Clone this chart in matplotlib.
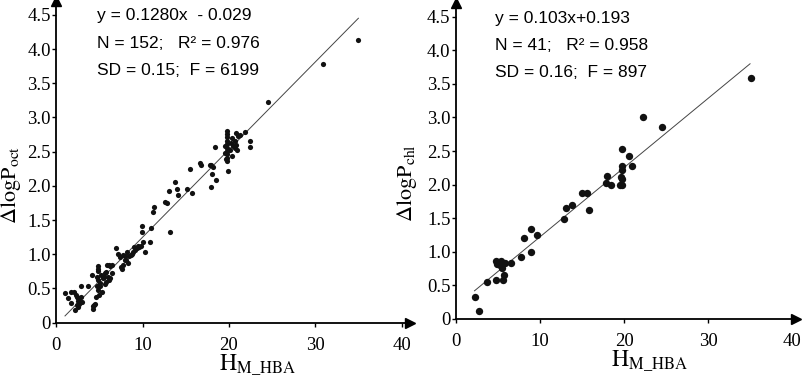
import matplotlib.pyplot as plt
import numpy as np

plt.rcParams["font.family"] = ["Liberation Serif", "DejaVu Serif"]
plt.rcParams["mathtext.fontset"] = "stix"

# left panel: octanol
oct_x = [1.0, 1.4, 1.7, 2.0, 1.7, 2.2, 2.4, 2.5, 2.6, 2.8, 2.5, 2.4, 2.6, 2.5, 2.8,
         3.7, 4.1, 4.3, 4.4, 4.5, 4.2, 4.8, 4.8, 4.8, 4.7, 4.8, 4.7, 4.8, 4.9, 4.6,
         5.0, 5.1, 5.2, 5.3, 5.4, 5.5, 5.6, 5.8, 5.9, 6.1, 6.2, 6.4, 6.0, 6.1, 5.8,
         6.2, 6.5, 6.9, 7.1, 7.5, 7.6, 7.7, 7.7, 7.9, 8.0, 8.1, 8.2, 8.4, 8.6, 8.8,
         8.9, 9.1, 9.3, 9.5, 9.6, 9.8, 9.9, 9.9, 10.0, 10.3, 10.8, 11.0, 11.2, 11.3,
         12.6, 12.8, 13.1, 13.2, 13.7, 14.0, 14.1, 15.1, 15.7, 17.9, 18.5,
         35.0, 30.9, 24.5, 22.4, 22.4, 21.9, 21.3, 21.0, 20.8, 20.7, 20.8, 20.7, 20.9,
         19.8, 19.8, 19.8, 19.8, 19.8, 19.8, 19.8, 19.8, 19.8, 19.8, 19.5, 19.5, 19.6,
         19.9, 20.3, 18.4, 18.0, 18.2, 17.9, 17.8, 16.8, 16.7, 15.5, 20.2, 20.4, 20.5,
         20.1, 7.4, 8.3, 9.0, 5.6, 3.0, 2.3]
oct_y = [0.43, 0.36, 0.45, 0.45, 0.29, 0.18, 0.38, 0.36, 0.34, 0.38, 0.32, 0.26, 0.27, 0.23, 0.54,
         0.54, 0.70, 0.24, 0.26, 0.28, 0.20, 0.83, 0.79, 0.76, 0.67, 0.62, 0.53, 0.48, 0.41, 0.38,
         0.58, 0.53, 0.70, 0.45, 0.65, 0.67, 0.72, 0.74, 0.84, 0.84, 0.83, 0.84, 0.67, 0.62, 0.60,
         0.65, 0.72, 1.09, 1.00, 0.81, 0.78, 0.84, 0.99, 0.97, 0.92, 0.92, 1.03, 0.97, 0.99, 1.00,
         1.04, 1.07, 1.09, 1.12, 1.11, 1.12, 1.41, 1.33, 1.18, 1.04, 1.18, 1.39, 1.62, 1.69,
         1.77, 1.75, 1.93, 1.32, 2.05, 1.96, 1.87, 1.95, 1.90, 1.99, 2.09,
         4.14, 3.78, 3.22, 2.65, 2.57, 2.79, 2.75, 2.73, 2.77, 2.65, 2.60, 2.55, 2.52,
         2.80, 2.76, 2.71, 2.66, 2.61, 2.56, 2.51, 2.46, 2.41, 2.36, 2.58, 2.48, 2.39,
         2.22, 2.44, 2.57, 2.17, 2.28, 2.30, 2.31, 2.30, 2.33, 2.25, 2.62, 2.70, 2.58,
         2.53, 0.96, 0.88, 1.10, 0.57, 0.30, 0.40]

# right panel: chloroform
chl_x = [2.3, 2.7, 3.7, 4.7, 4.8, 5.0, 5.2, 5.4, 5.5, 5.6, 5.7, 5.8, 6.6, 7.7, 8.1,
         8.9, 8.9, 9.6, 12.9, 13.1, 13.8, 15.0, 15.6, 15.8, 17.8, 18.0, 18.5, 19.5,
         19.7, 19.7, 19.6, 19.8, 19.7, 19.8, 20.6, 21.0, 22.3, 24.5, 35.1, 5.3, 4.9]
chl_y = [0.32, 0.12, 0.55, 0.58, 0.86, 0.84, 0.81, 0.87, 0.76, 0.58, 0.65, 0.83, 0.83, 0.92, 1.20,
         1.34, 1.00, 1.25, 1.49, 1.65, 1.69, 1.87, 1.87, 1.62, 2.03, 2.13, 2.00, 1.99,
         2.00, 2.09, 2.12, 2.22, 2.27, 2.53, 2.43, 2.27, 3.01, 2.85, 3.58, 0.84, 0.82]

yticks = [0, 0.5, 1.0, 1.5, 2.0, 2.5, 3.0, 3.5, 4.0, 4.5]
ytick_labels = ["0", "0.5", "1.0", "1.5", "2.0", "2.5", "3.0", "3.5", "4.0", "4.5"]
xticks = [0, 10, 20, 30, 40]

panels = [
    dict(x=oct_x, y=oct_y, slope=0.1280, icpt=-0.029, xr=(1.0, 35.0), ms=14,
         rect=[0.0702, 0.1463, 0.4406, 0.8505], xlim=41, tx=0.115, ty=0.955, ylx=-0.095,
         ylabel=r"$\Delta\mathrm{logP}_{\mathrm{oct}}$",
         text=["y = 0.1280x  - 0.029", "N = 152;   R\u00b2 = 0.976", "SD = 0.15;  F = 6199"]),
    dict(x=chl_x, y=chl_y, slope=0.103, icpt=0.193, xr=(2.2, 35.0), ms=28,
         rect=[0.5679, 0.1561, 0.4237, 0.8355], xlim=40.5, tx=0.115, ty=0.95, ylx=-0.11,
         ylabel=r"$\Delta\mathrm{logP}_{\mathrm{chl}}$",
         text=["y = 0.103x+0.193", "N = 41;   R\u00b2 = 0.958", "SD = 0.16;  F = 897"]),
]

fig = plt.figure(figsize=(8.03, 3.78), dpi=100)

for p in panels:
    ax = fig.add_axes(p["rect"])
    ax.scatter(p["x"], p["y"], s=p["ms"], color="#111111", linewidths=0, zorder=3)
    lx = np.array(p["xr"])
    ax.plot(lx, p["slope"] * lx + p["icpt"], color="#444444", lw=0.7)
    ax.set_xlim(0, p["xlim"])
    ax.set_ylim(0, 4.7)
    for s in ["top", "right"]:
        ax.spines[s].set_visible(False)
    for s in ["left", "bottom"]:
        ax.spines[s].set_linewidth(1.3)
    # arrow heads on the axes
    ax.plot([1], [0], marker=">", color="black", markersize=7, transform=ax.transAxes, clip_on=False)
    ax.plot([0], [1], marker="^", color="black", markersize=7, transform=ax.transAxes, clip_on=False)
    ax.set_yticks(yticks)
    ax.set_yticklabels(ytick_labels)
    ax.set_xticks(xticks)
    ax.tick_params(axis="both", labelsize=13.5, width=1, length=3, direction="out")
    ax.tick_params(axis="y", pad=1)
    ax.tick_params(axis="x", pad=7)
    ax.set_ylabel(p["ylabel"], fontsize=16)
    ax.yaxis.set_label_coords(p["ylx"], 0.43)
    ax.set_xlabel(r"$\mathrm{H}_{\mathrm{M\_HBA}}$", fontsize=17, labelpad=1)
    ax.xaxis.set_label_coords(0.57, -0.095)
    for i, t in enumerate(p["text"]):
        ax.text(p["tx"], p["ty"] - i * 0.085, t, transform=ax.transAxes, fontsize=12.5,
                family=["Liberation Sans", "DejaVu Sans"], va="center", ha="left")

fig.savefig("out.png", dpi=100)
